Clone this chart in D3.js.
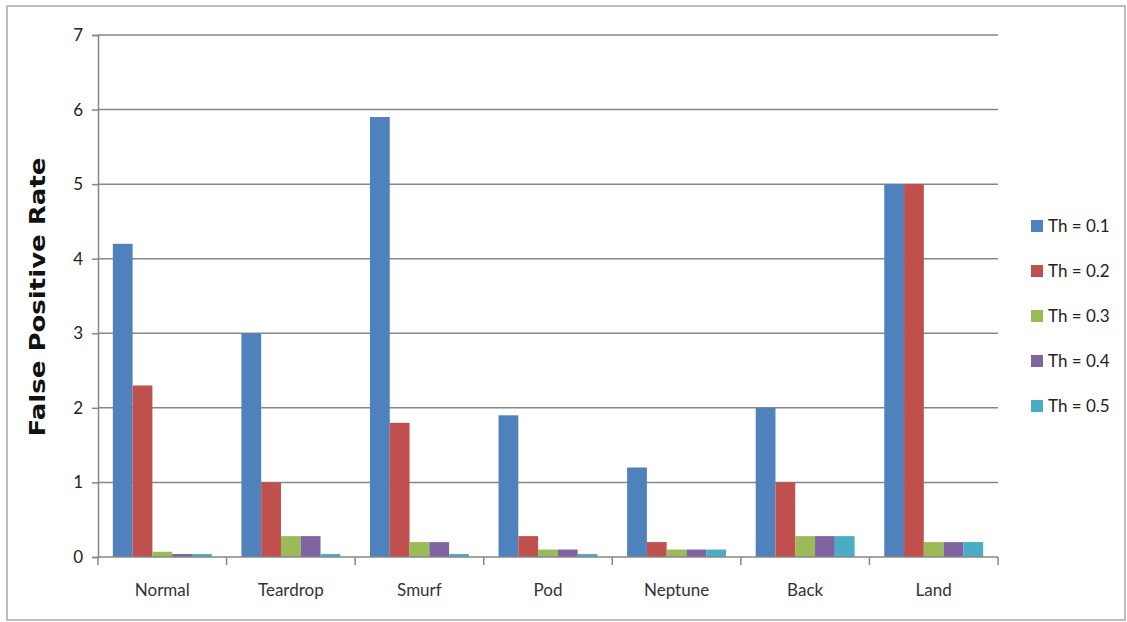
<!DOCTYPE html>
<html>
<head>
<meta charset="utf-8">
<script src="https://cdn.jsdelivr.net/npm/d3@7"></script>
<style>
  html, body { margin: 0; padding: 0; background: #fff; }
  svg { display: block; }
</style>
</head>
<body>
<svg id="chart" width="1127" height="622"></svg>
<script>
// Categories (attack types) and one value array per threshold series
const categories = ["Normal", "Teardrop", "Smurf", "Pod", "Neptune", "Back", "Land"];
const seriesNames = ["Th = 0.1", "Th = 0.2", "Th = 0.3", "Th = 0.4", "Th = 0.5"];
const th01 = [4.2, 3.0, 5.9, 1.9, 1.2, 2.0, 5.0];
const th02 = [2.3, 1.0, 1.8, 0.28, 0.2, 1.0, 5.0];
const th03 = [0.07, 0.28, 0.2, 0.1, 0.1, 0.28, 0.2];
const th04 = [0.04, 0.28, 0.2, 0.1, 0.1, 0.28, 0.2];
const th05 = [0.04, 0.04, 0.04, 0.04, 0.1, 0.28, 0.2];
const yTicks = [0, 1, 2, 3, 4, 5, 6, 7];
const seriesColors = ["#4F81BD", "#C0504D", "#9BBB59", "#8064A2", "#4BACC6"];

const seriesValues = [th01, th02, th03, th04, th05];

const svg = d3.select("#chart");
const plot = { left: 98, right: 998, top: 35, bottom: 557 };
const axisColor = "#878787";
const labelFont = "Lato, 'Open Sans', sans-serif";

// Outer chart frame
svg.append("rect")
  .attr("x", 7).attr("y", 6)
  .attr("width", 1118).attr("height", 614)
  .attr("fill", "#fff")
  .attr("stroke", "#a8a8a8").attr("stroke-width", 1.5);

const x0 = d3.scaleBand().domain(categories).range([plot.left, plot.right]).paddingInner(0).paddingOuter(0);
// 150% gap between groups: five bars fill 5 of 6.5 slots per category
const x1 = d3.scaleBand().domain(d3.range(seriesNames.length))
  .range([0, x0.bandwidth()]).paddingInner(0).paddingOuter(0.75);
const y = d3.scaleLinear().domain([0, 7]).range([plot.bottom, plot.top]);

// Horizontal gridlines
svg.append("g")
  .selectAll("line")
  .data(yTicks.filter(d => d > 0))
  .join("line")
  .attr("x1", plot.left).attr("x2", plot.right)
  .attr("y1", d => y(d)).attr("y2", d => y(d))
  .attr("stroke", axisColor).attr("stroke-width", 1.5);

// Bars
const groups = svg.append("g")
  .selectAll("g")
  .data(categories)
  .join("g")
  .attr("transform", d => `translate(${x0(d)},0)`);

groups.selectAll("rect")
  .data((c, ci) => seriesValues.map((vals, si) => ({ si, v: vals[ci] })))
  .join("rect")
  .attr("x", d => x1(d.si))
  .attr("width", x1.bandwidth())
  .attr("y", d => y(d.v))
  .attr("height", d => y(0) - y(d.v))
  .attr("fill", d => seriesColors[d.si]);

// Y axis
const yAxis = svg.append("g")
  .attr("transform", `translate(${plot.left},0)`)
  .call(d3.axisLeft(y).tickValues(yTicks).tickSize(6).tickPadding(9).tickFormat(d3.format("d")));
yAxis.select(".domain").attr("stroke", axisColor).attr("stroke-width", 1.5);
yAxis.selectAll(".tick line").attr("stroke", axisColor).attr("stroke-width", 1.5);
yAxis.selectAll(".tick text")
  .attr("font-family", labelFont).attr("font-size", 17).attr("fill", "#222");

// X axis: category labels centred, ticks at category boundaries
const xAxis = svg.append("g")
  .attr("transform", `translate(0,${plot.bottom})`)
  .call(d3.axisBottom(x0).tickSize(0).tickPadding(27));
xAxis.select(".domain").remove();
xAxis.selectAll(".tick text")
  .attr("font-family", labelFont).attr("font-size", 17).attr("fill", "#333");

svg.append("line")
  .attr("x1", plot.left).attr("x2", plot.right)
  .attr("y1", plot.bottom).attr("y2", plot.bottom)
  .attr("stroke", axisColor).attr("stroke-width", 1.5);
svg.append("g")
  .selectAll("line")
  .data(categories.map(c => x0(c)).concat([plot.right]))
  .join("line")
  .attr("x1", d => d).attr("x2", d => d)
  .attr("y1", plot.bottom).attr("y2", plot.bottom + 8)
  .attr("stroke", axisColor).attr("stroke-width", 1.5);

// Y axis title
svg.append("text")
  .attr("transform", "translate(45,297) rotate(-90)")
  .attr("text-anchor", "middle")
  .attr("font-family", "'DejaVu Sans', Verdana, sans-serif")
  .attr("font-weight", "bold")
  .attr("font-size", 22)
  .attr("textLength", 279)
  .attr("lengthAdjust", "spacingAndGlyphs")
  .attr("fill", "#111")
  .text("False Positive Rate");

// Legend
const legend = svg.append("g")
  .selectAll("g")
  .data(seriesNames)
  .join("g")
  .attr("transform", (d, i) => `translate(1031,${226 + i * 45})`);
legend.append("rect")
  .attr("x", 0).attr("y", -6)
  .attr("width", 12).attr("height", 12)
  .attr("fill", (d, i) => seriesColors[i]);
legend.append("text")
  .attr("x", 17).attr("y", 6)
  .attr("font-family", labelFont).attr("font-size", 17).attr("fill", "#222")
  .text(d => d);
</script>
</body>
</html>
